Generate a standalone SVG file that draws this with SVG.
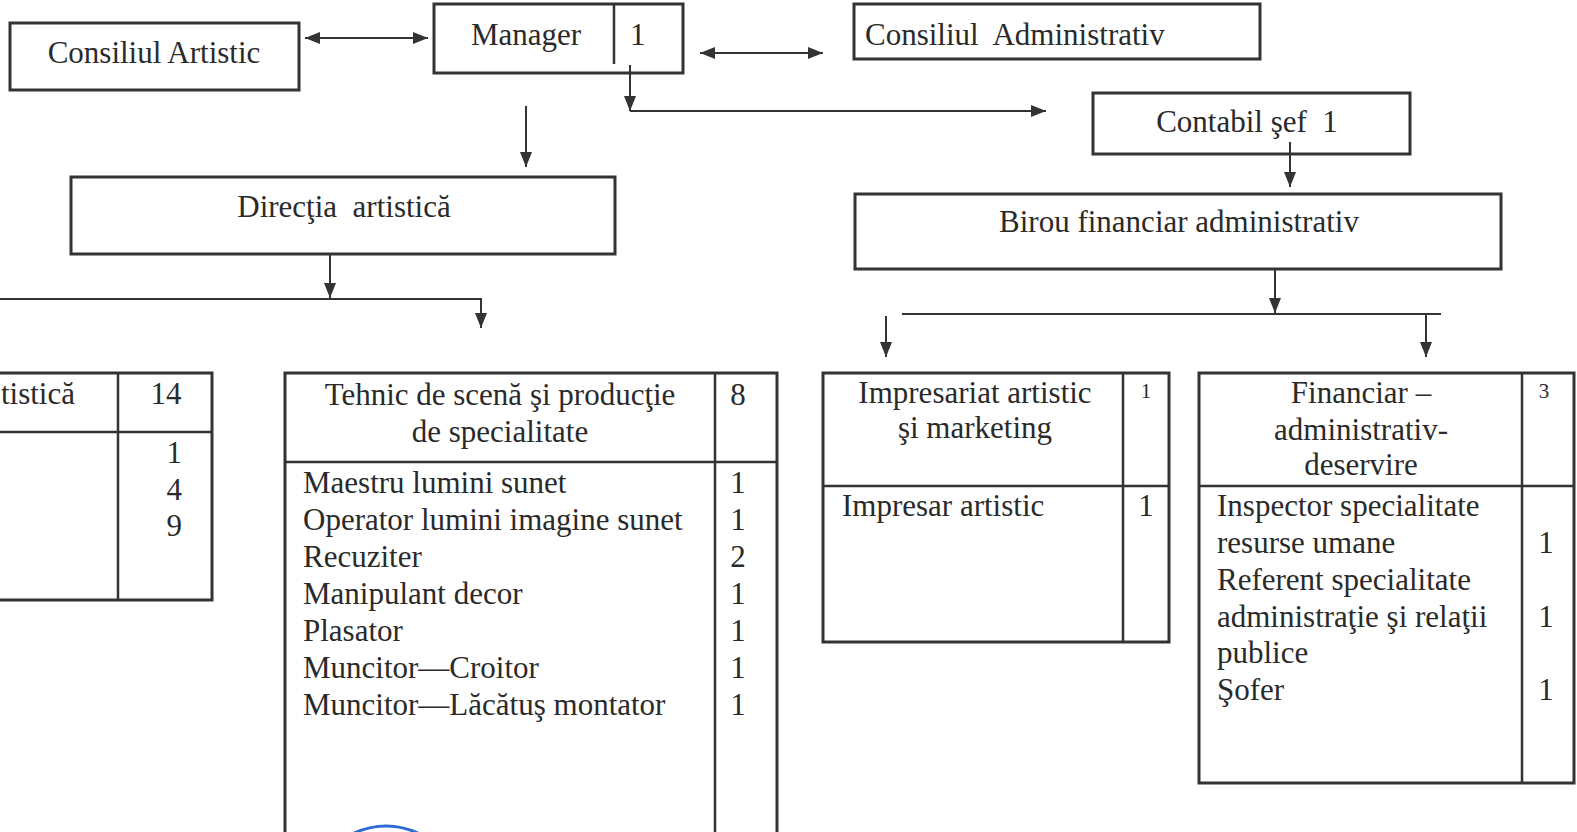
<svg xmlns="http://www.w3.org/2000/svg" width="1577" height="832" viewBox="0 0 1577 832">
<style>
  .box { fill: #fff; stroke: #333; stroke-width: 3; }
  .ln { fill: none; stroke: #333; stroke-width: 2.5; }
  .cn { fill: none; stroke: #333; stroke-width: 2; }
  text { font-family: "Liberation Serif", "Times New Roman", serif; font-size: 31px; fill: #2a2a2a; }
  .c { text-anchor: middle; }
  .r { text-anchor: end; }
  .sm { font-size: 21px; }
</style>
<defs>
  <marker id="ah" markerUnits="userSpaceOnUse" markerWidth="16" markerHeight="14" refX="15" refY="7" orient="auto-start-reverse">
    <path d="M0,1 L15,7 L0,13 Z" fill="#333"/>
  </marker>
</defs>
<rect width="1577" height="832" fill="#fff"/>

<g id="consiliul-artistic">
  <rect class="box" x="10" y="23" width="289" height="67"/>
  <text class="c" x="154" y="63">Consiliul Artistic</text>
</g>

<g id="manager">
  <rect class="box" x="434" y="4" width="249" height="69"/>
  <line class="ln" x1="614" y1="4" x2="614" y2="64"/>
  <text x="471" y="45">Manager</text>
  <text x="630" y="45">1</text>
</g>

<g id="consiliul-administrativ">
  <rect class="box" x="854" y="4" width="406" height="55"/>
  <text x="865" y="45" xml:space="preserve">Consiliul  Administrativ</text>
</g>

<g id="contabil-sef">
  <rect class="box" x="1093" y="93" width="317" height="61"/>
  <text class="c" x="1247" y="132" xml:space="preserve">Contabil şef  1</text>
</g>

<g id="directia-artistica">
  <rect class="box" x="71" y="177" width="544" height="77"/>
  <text class="c" x="344" y="217" xml:space="preserve">Direcţia  artistică</text>
</g>

<g id="birou-financiar">
  <rect class="box" x="855" y="194" width="646" height="75"/>
  <text class="c" x="1179" y="232">Birou financiar administrativ</text>
</g>

<g id="sectia-artistica">
  <rect class="box" x="-10" y="373" width="222" height="227"/>
  <line class="ln" x1="-10" y1="432" x2="212" y2="432"/>
  <line class="ln" x1="118" y1="373" x2="118" y2="600"/>
  <text class="r" x="75" y="404">tistică</text>
  <text class="c" x="166" y="404">14</text>
  <text class="r" x="182" y="463">1</text>
  <text class="r" x="182" y="500">4</text>
  <text class="r" x="182" y="536">9</text>
</g>

<g id="tehnic-scena">
  <rect class="box" x="285" y="373" width="492" height="470"/>
  <line class="ln" x1="285" y1="462" x2="777" y2="462"/>
  <line class="ln" x1="715" y1="373" x2="715" y2="843"/>
  <text class="c" x="500" y="405">Tehnic de scenă şi producţie</text>
  <text class="c" x="500" y="442">de specialitate</text>
  <text class="c" x="738" y="405">8</text>
  <text x="303" y="493">Maestru lumini sunet</text>
  <text x="303" y="530">Operator lumini imagine sunet</text>
  <text x="303" y="567">Recuziter</text>
  <text x="303" y="604">Manipulant decor</text>
  <text x="303" y="641">Plasator</text>
  <text x="303" y="678">Muncitor—Croitor</text>
  <text x="303" y="715">Muncitor—Lăcătuş montator</text>
  <text class="c" x="738" y="493">1</text>
  <text class="c" x="738" y="530">1</text>
  <text class="c" x="738" y="567">2</text>
  <text class="c" x="738" y="604">1</text>
  <text class="c" x="738" y="641">1</text>
  <text class="c" x="738" y="678">1</text>
  <text class="c" x="738" y="715">1</text>
  <path d="M348,836 Q386,816 424,836" fill="none" stroke="#2f6bd6" stroke-width="3"/>
</g>

<g id="impresariat">
  <rect class="box" x="823" y="373" width="346" height="269"/>
  <line class="ln" x1="823" y1="486" x2="1169" y2="486"/>
  <line class="ln" x1="1123" y1="373" x2="1123" y2="642"/>
  <text class="c" x="975" y="403">Impresariat artistic</text>
  <text class="c" x="975" y="438">şi marketing</text>
  <text class="c sm" x="1146" y="398">1</text>
  <text x="842" y="516">Impresar artistic</text>
  <text class="c" x="1146" y="516">1</text>
</g>

<g id="financiar">
  <rect class="box" x="1199" y="373" width="375" height="410"/>
  <line class="ln" x1="1199" y1="486" x2="1574" y2="486"/>
  <line class="ln" x1="1522" y1="373" x2="1522" y2="783"/>
  <text class="c" x="1361" y="403">Financiar –</text>
  <text class="c" x="1361" y="440">administrativ-</text>
  <text class="c" x="1361" y="475">deservire</text>
  <text class="c sm" x="1544" y="398">3</text>
  <text x="1217" y="516">Inspector specialitate</text>
  <text x="1217" y="553">resurse umane</text>
  <text x="1217" y="590">Referent specialitate</text>
  <text x="1217" y="627">administraţie şi relaţii</text>
  <text x="1217" y="663">publice</text>
  <text x="1217" y="700">Şofer</text>
  <text class="c" x="1546" y="553">1</text>
  <text class="c" x="1546" y="627">1</text>
  <text class="c" x="1546" y="700">1</text>
</g>

<g id="connectors">
  <line class="cn" x1="305" y1="38" x2="428" y2="38" marker-start="url(#ah)" marker-end="url(#ah)"/>
  <line class="cn" x1="700" y1="53" x2="823" y2="53" marker-start="url(#ah)" marker-end="url(#ah)"/>
  <line class="cn" x1="630" y1="65" x2="630" y2="111" marker-end="url(#ah)"/>
  <line class="cn" x1="630" y1="111" x2="1046" y2="111" marker-end="url(#ah)"/>
  <line class="cn" x1="526" y1="106" x2="526" y2="167" marker-end="url(#ah)"/>
  <line class="cn" x1="1290" y1="142" x2="1290" y2="187" marker-end="url(#ah)"/>
  <line class="cn" x1="330" y1="255" x2="330" y2="298" marker-end="url(#ah)"/>
  <polyline class="cn" points="0,299 481,299 481,328" marker-end="url(#ah)"/>
  <line class="cn" x1="1275" y1="270" x2="1275" y2="313" marker-end="url(#ah)"/>
  <line class="cn" x1="902" y1="314" x2="1441" y2="314"/>
  <line class="cn" x1="886" y1="316" x2="886" y2="357" marker-end="url(#ah)"/>
  <line class="cn" x1="1426" y1="314" x2="1426" y2="357" marker-end="url(#ah)"/>
</g>
</svg>
